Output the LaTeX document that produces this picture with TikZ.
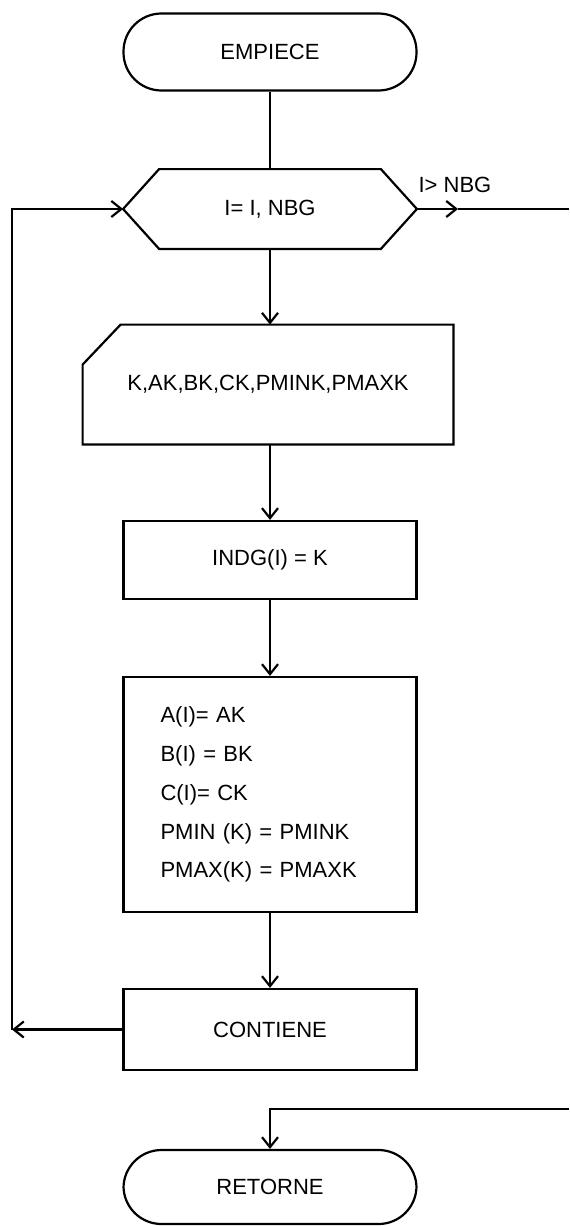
\documentclass[tikz,border=0pt]{standalone}
\usepackage{fontspec}
\setmainfont{Liberation Sans}
\usetikzlibrary{positioning, arrows.meta}

\tikzset{
  flowline/.style={line width=1.1pt, -{Straight Barb[length=5pt,width=8pt]}},
  plainline/.style={line width=1.1pt},
  terminal/.style={draw, line width=1.1pt, rounded corners=19pt,
        minimum width=146.5pt, minimum height=38.5pt},
  procbox/.style={draw, line width=1.1pt,
        minimum width=146.5pt, minimum height=39.5pt},
  ghostbox/.style={inner sep=0pt}
}

\begin{document}
\begin{tikzpicture}[x=0.5pt, y=-0.5pt, font=\fontsize{11}{13}\selectfont]
  \useasboundingbox (0,0) rectangle (569,1226);

  % start
  \node[terminal] (empiece) at (270,52) {EMPIECE};

  % loop header (hexagon)
  \node[ghostbox, minimum width=146.5pt, minimum height=39.5pt] (loop) at (270,209) {I= I, NBG};
  \draw[plainline] (loop.west) -- ([xshift=18pt]loop.north west)
    -- ([xshift=-18pt]loop.north east) -- (loop.east)
    -- ([xshift=-18pt]loop.south east) -- ([xshift=18pt]loop.south west) -- cycle;
  \node (exitlabel) at (455,185) {I> NBG};

  % read card
  \node[ghostbox, minimum width=185pt, minimum height=59.5pt] (readcard) at (268,384.5)
    {K,AK,BK,CK,PMINK,PMAXK};
  \draw[plainline] ([yshift=-20pt]readcard.north west) -- ([xshift=19pt]readcard.north west)
    -- (readcard.north east) -- (readcard.south east) -- (readcard.south west) -- cycle;

  % processing boxes
  \node[procbox, minimum height=39pt] (indg) at (270,560) {INDG(I) = K};
  \node[procbox, minimum height=117.5pt, inner xsep=18.5pt, text width=109.5pt, align=left,
        font=\fontsize{11}{19.4}\selectfont] (assign) at (270,794.5)
    {A(I)= AK\\ B(I) = BK\\ C(I)= CK\\ PMIN (K) = PMINK\\ PMAX(K) = PMAXK};
  \node[procbox, minimum height=40.5pt] (contiene) at (270,1029.5) {CONTIENE};

  % end
  \node[terminal, minimum height=37pt] (retorne) at (270,1187) {RETORNE};

  % connectors
  \coordinate (loopleft) at (12,1029.5);
  \coordinate (exitmid) at (458,209);
  \coordinate (exitend) at (569,209);
  \coordinate (retin) at (569,1109);

  \draw[plainline] (empiece) -- (loop.north);
  \draw[flowline] (loop.south) -- (readcard.north -| loop.south);
  \draw[flowline] (readcard.south -| indg.north) -- (indg.north);
  \draw[flowline] (indg) -- (assign);
  \draw[flowline] (assign) -- (contiene);
  \draw[flowline] (contiene.west) -- (loopleft);
  \draw[flowline] (loopleft) |- (loop.west);
  \draw[flowline] (loop.east) -- (exitmid);
  \draw[plainline] (exitmid) -- (exitend);
  \draw[flowline] (retin) -| (retorne.north);
\end{tikzpicture}
\end{document}
